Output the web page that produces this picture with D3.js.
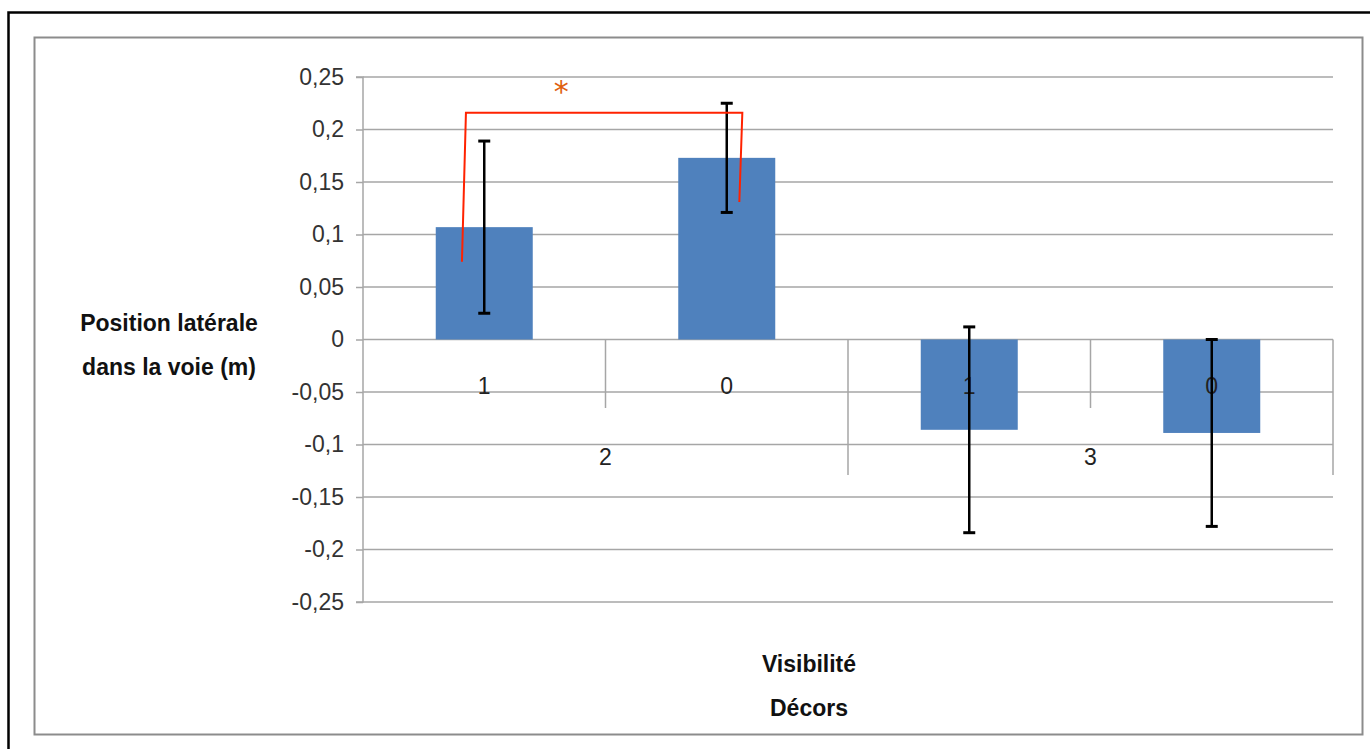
<!DOCTYPE html>
<html><head><meta charset="utf-8">
<script src="https://cdn.jsdelivr.net/npm/d3@7"></script>
<style>body{margin:0;background:#fff}svg{display:block}</style>
</head><body>
<svg id="c" width="1370" height="749"></svg>
<script>
const subLabels = ["1","0","1","0"];
const groupLabels = ["2","3"];
const means = [0.107, 0.173, -0.086, -0.089];
const errors = [0.082, 0.052, 0.098, 0.089];
const yTicks = [-0.25,-0.2,-0.15,-0.1,-0.05,0,0.05,0.1,0.15,0.2,0.25];
const yTitle = ["Position latérale","dans la voie (m)"];
const xTitle = ["Visibilité","Décors"];
const sigPair = [0,1];

const svg = d3.select("#c");
const font = "'Liberation Sans',Arial,sans-serif";
// frames
svg.append("path").attr("d","M8.5,749 L8.5,12.5 L1370,12.5").attr("fill","none").attr("stroke","#000").attr("stroke-width",2.5);
svg.append("rect").attr("x",34.5).attr("y",37.5).attr("width",1328).attr("height",697).attr("fill","none").attr("stroke","#8c8c8c").attr("stroke-width",2);

const x0=363,x1=1333;
const y = d3.scaleLinear().domain([-0.25,0.25]).range([602,77]);
const x = d3.scaleBand().domain(d3.range(means.length)).range([x0,x1]).paddingInner(0.6).paddingOuter(0.3);
const xg = d3.scaleBand().domain(d3.range(groupLabels.length)).range([x0,x1]);

const fmt = d => String(d).replace(".",",");
// grid
svg.append("g").selectAll("line").data(yTicks).join("line")
  .attr("x1",x0).attr("x2",x1).attr("y1",d=>y(d)).attr("y2",d=>y(d))
  .attr("stroke","#a6a6a6").attr("stroke-width",1.5);
// y axis
const ya = svg.append("g").attr("transform",`translate(${x0},0)`)
  .call(d3.axisLeft(y).tickValues(yTicks).tickFormat(fmt).tickSize(7).tickPadding(12));
ya.select(".domain").attr("stroke","#a6a6a6").attr("stroke-width",1.5).attr("d",`M-7,${y(0.25)}H0V${y(-0.25)}H-7`);
ya.selectAll(".tick line").attr("stroke","#a6a6a6").attr("stroke-width",1.5);
ya.selectAll("text").attr("font-family",font).attr("font-size",23).attr("fill","#333");

// bars
svg.append("g").selectAll("rect").data(means).join("rect")
  .attr("x",(d,i)=>x(i)).attr("width",x.bandwidth())
  .attr("y",d=>y(Math.max(0,d))).attr("height",d=>Math.abs(y(d)-y(0)))
  .attr("fill","#4f81bd");

// x axis separators
const step = (x1-x0)/means.length;
const seps=[];
for(let i=1;i<=means.length;i++){ seps.push({x:x0+i*step, long: i%2===0}); }
svg.append("g").selectAll("line").data(seps).join("line")
  .attr("x1",d=>d.x).attr("x2",d=>d.x).attr("y1",y(0)).attr("y2",d=>d.long?475:408)
  .attr("stroke","#a6a6a6").attr("stroke-width",1.5);
// sub labels
svg.append("g").selectAll("text").data(subLabels).join("text")
  .attr("x",(d,i)=>x(i)+x.bandwidth()/2).attr("y",394).attr("text-anchor","middle")
  .attr("font-family",font).attr("font-size",23).attr("fill","#222").text(d=>d);
svg.append("g").selectAll("text").data(groupLabels).join("text")
  .attr("x",(d,i)=>xg(i)+xg.bandwidth()/2).attr("y",465).attr("text-anchor","middle")
  .attr("font-family",font).attr("font-size",23).attr("fill","#222").text(d=>d);

// error bars
const eb = svg.append("g").attr("stroke","#000").attr("stroke-width",2.5);
means.forEach((m,i)=>{
  const cx = x(i)+x.bandwidth()/2;
  eb.append("line").attr("x1",cx).attr("x2",cx).attr("y1",y(m+errors[i])).attr("y2",y(m-errors[i]));
  [m+errors[i], m-errors[i]].forEach(v=>eb.append("line").attr("x1",cx-6).attr("x2",cx+6).attr("y1",y(v)).attr("y2",y(v)).attr("stroke-width",3));
});

// significance bracket
const bx1 = x(sigPair[0])+x.bandwidth()*0.27, bx2 = x(sigPair[1])+x.bandwidth()*0.64;
svg.append("path").attr("d",`M${bx1},${y(0.074)} L${bx1+4},${y(0.216)} L${bx2+2},${y(0.216)} L${bx2-1},${y(0.131)}`)
  .attr("fill","none").attr("stroke","#ff2200").attr("stroke-width",2);
svg.append("text").attr("x",(bx1+bx2)/2-40).attr("y",y(0.2265)).attr("text-anchor","middle")
  .attr("font-family","'DejaVu Sans',sans-serif").attr("font-size",30).attr("fill","#e0600e").text("*");

// titles
svg.append("g").selectAll("text").data(yTitle).join("text")
  .attr("x",169).attr("y",(d,i)=>331+i*44).attr("text-anchor","middle")
  .attr("font-family",font).attr("font-weight","bold").attr("font-size",23).attr("fill","#111").text(d=>d);
svg.append("g").selectAll("text").data(xTitle).join("text")
  .attr("x",809).attr("y",(d,i)=>672+i*44).attr("text-anchor","middle")
  .attr("font-family",font).attr("font-weight","bold").attr("font-size",23).attr("fill","#111").text(d=>d);
</script>
</body></html>
